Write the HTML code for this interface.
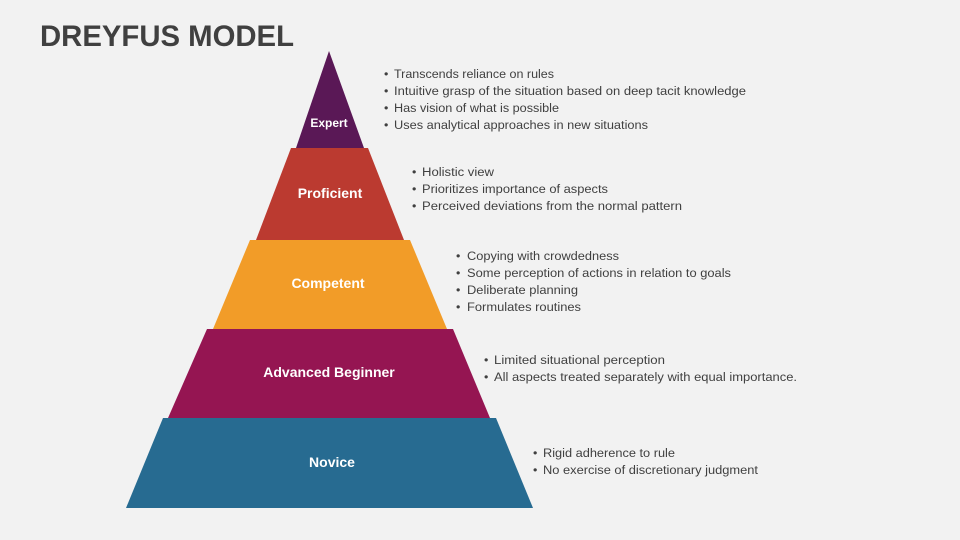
<!DOCTYPE html>
<html><head><meta charset="utf-8"><style>
html,body{margin:0;padding:0;background:#f2f2f2;}
svg{display:block;}
.b{font-family:"Liberation Sans",sans-serif;font-size:12.4px;fill:#404040;}
.l{font-family:"Liberation Sans",sans-serif;font-weight:bold;fill:#fff;text-anchor:middle;}
</style></head><body>
<svg width="960" height="540" viewBox="0 0 960 540" xmlns="http://www.w3.org/2000/svg">
<rect width="960" height="540" fill="#f2f2f2"/>
<text x="40" y="46" font-family="Liberation Sans,sans-serif" font-weight="bold" font-size="30" fill="#404040" textLength="254" lengthAdjust="spacingAndGlyphs">DREYFUS MODEL</text>
<polygon points="163,418 496,418 533,508 126,508" fill="#276b91"/>
<polygon points="207,329 453,329 490,418 168,418" fill="#951552"/>
<polygon points="250,240 410,240 447,329 213,329" fill="#f29c28"/>
<polygon points="291,148 368,148 404,240 256,240" fill="#bb3a30"/>
<polygon points="329,51 364,148 296,148" fill="#5a1856"/>
<text class="l" x="329" y="127" font-size="12">Expert</text>
<text class="l" x="330" y="198" font-size="14">Proficient</text>
<text class="l" x="328" y="288" font-size="14">Competent</text>
<text class="l" x="329" y="377" font-size="14">Advanced Beginner</text>
<text class="l" x="332" y="467" font-size="14">Novice</text>
<g class="b">
<text x="384" y="78">•</text><text x="394" y="78" textLength="160" lengthAdjust="spacingAndGlyphs">Transcends reliance on rules</text>
<text x="384" y="95">•</text><text x="394" y="95" textLength="352" lengthAdjust="spacingAndGlyphs">Intuitive grasp of the situation based on deep tacit knowledge</text>
<text x="384" y="112">•</text><text x="394" y="112" textLength="165" lengthAdjust="spacingAndGlyphs">Has vision of what is possible</text>
<text x="384" y="129">•</text><text x="394" y="129" textLength="254" lengthAdjust="spacingAndGlyphs">Uses analytical approaches in new situations</text>
<text x="412" y="176">•</text><text x="422" y="176" textLength="72" lengthAdjust="spacingAndGlyphs">Holistic view</text>
<text x="412" y="193">•</text><text x="422" y="193" textLength="186" lengthAdjust="spacingAndGlyphs">Prioritizes importance of aspects</text>
<text x="412" y="210">•</text><text x="422" y="210" textLength="260" lengthAdjust="spacingAndGlyphs">Perceived deviations from the normal pattern</text>
<text x="456" y="260">•</text><text x="467" y="260" textLength="152" lengthAdjust="spacingAndGlyphs">Copying with crowdedness</text>
<text x="456" y="277">•</text><text x="467" y="277" textLength="264" lengthAdjust="spacingAndGlyphs">Some perception of actions in relation to goals</text>
<text x="456" y="294">•</text><text x="467" y="294" textLength="111" lengthAdjust="spacingAndGlyphs">Deliberate planning</text>
<text x="456" y="311">•</text><text x="467" y="311" textLength="114" lengthAdjust="spacingAndGlyphs">Formulates routines</text>
<text x="484" y="364">•</text><text x="494" y="364" textLength="171" lengthAdjust="spacingAndGlyphs">Limited situational perception</text>
<text x="484" y="381">•</text><text x="494" y="381" textLength="303" lengthAdjust="spacingAndGlyphs">All aspects treated separately with equal importance.</text>
<text x="533" y="457">•</text><text x="543" y="457" textLength="132" lengthAdjust="spacingAndGlyphs">Rigid adherence to rule</text>
<text x="533" y="474">•</text><text x="543" y="474" textLength="215" lengthAdjust="spacingAndGlyphs">No exercise of discretionary judgment</text>
</g>
</svg>
</body></html>
